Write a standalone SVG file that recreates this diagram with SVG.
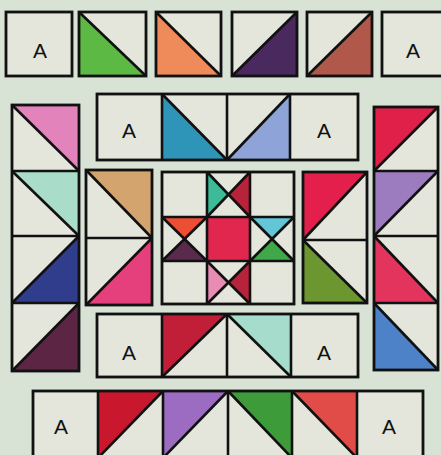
<svg xmlns="http://www.w3.org/2000/svg" width="441" height="455" viewBox="0 0 441 455">
<style>
.c{fill:#e4e6dc}
.o{fill:none;stroke:#111;stroke-width:2.8;stroke-linejoin:miter}
.d{stroke:#111;stroke-width:2.6;fill:none}
.t{font-family:"Liberation Sans",Arial,sans-serif;font-size:21px;fill:#111;text-anchor:middle}
</style>
<rect width="441" height="455" fill="#d8e2d5"/>
<g id="row1">
<rect class="c" x="6" y="12" width="66" height="64"/><rect class="o" x="6" y="12" width="66" height="64"/>
<text class="t" x="40" y="58">A</text>
<rect class="c" x="79" y="12" width="67" height="64"/><polygon points="79,12 79,76 146,76" fill="#5cb944"/><line class="d" x1="79" y1="12" x2="146" y2="76"/><rect class="o" x="79" y="12" width="67" height="64"/>
<rect class="c" x="156" y="12" width="65" height="64"/><polygon points="156,12 156,76 221,76" fill="#ef8a5a"/><line class="d" x1="156" y1="12" x2="221" y2="76"/><rect class="o" x="156" y="12" width="65" height="64"/>
<rect class="c" x="232" y="12" width="65" height="64"/><polygon points="232,76 297,76 297,12" fill="#4a2a5e"/><line class="d" x1="232" y1="76" x2="297" y2="12"/><rect class="o" x="232" y="12" width="65" height="64"/>
<rect class="c" x="307" y="12" width="65" height="64"/><polygon points="307,76 372,76 372,12" fill="#b0584a"/><line class="d" x1="307" y1="76" x2="372" y2="12"/><rect class="o" x="307" y="12" width="65" height="64"/>
<rect class="c" x="382" y="12" width="66" height="64"/><rect class="o" x="382" y="12" width="66" height="64"/>
<text class="t" x="413" y="58">A</text>
</g>
<g id="bar-top">
<rect class="c" x="97" y="94" width="261" height="66"/>
<polygon points="162,94 162,160 227,160" fill="#2e95b8"/>
<polygon points="227,160 290,160 290,94" fill="#8ea4d8"/>
<line class="d" x1="162" y1="94" x2="227" y2="160"/>
<line class="d" x1="227" y1="160" x2="290" y2="94"/>
<line class="d" x1="162" y1="94" x2="162" y2="160"/>
<line class="d" x1="227" y1="94" x2="227" y2="160"/>
<line class="d" x1="290" y1="94" x2="290" y2="160"/>
<rect class="o" x="97" y="94" width="261" height="66"/>
<text class="t" x="129" y="138">A</text>
<text class="t" x="324" y="138">A</text>
</g>
<g id="col-left">
<rect class="c" x="12" y="105" width="67" height="266"/>
<polygon points="12,105 79,105 79,171" fill="#e283bb"/>
<polygon points="12,171 79,171 79,236" fill="#a9ddc9"/>
<polygon points="12,303 79,303 79,236" fill="#2f3d8c"/>
<polygon points="12,371 79,371 79,303" fill="#5c2543"/>
<line class="d" x1="12" y1="105" x2="79" y2="171"/>
<line class="d" x1="12" y1="171" x2="79" y2="236"/>
<line class="d" x1="12" y1="303" x2="79" y2="236"/>
<line class="d" x1="12" y1="371" x2="79" y2="303"/>
<line class="d" x1="12" y1="171" x2="79" y2="171"/>
<line class="d" x1="12" y1="236" x2="79" y2="236"/>
<line class="d" x1="12" y1="303" x2="79" y2="303"/>
<rect class="o" x="12" y="105" width="67" height="266"/>
</g>
<g id="col-inner-left">
<rect class="c" x="86" y="170" width="66" height="135"/>
<polygon points="86,170 152,170 152,238" fill="#d4a46e"/>
<polygon points="86,305 152,305 152,238" fill="#e5407c"/>
<line class="d" x1="86" y1="170" x2="152" y2="238"/>
<line class="d" x1="86" y1="305" x2="152" y2="238"/>
<line class="d" x1="86" y1="238" x2="152" y2="238"/>
<rect class="o" x="86" y="170" width="66" height="135"/>
</g>
<g id="star">
<rect class="c" x="162" y="172" width="132" height="132"/>
<polygon points="207,172 207,217 228.5,194.5" fill="#3dba98"/>
<polygon points="250,172 250,217 228.5,194.5" fill="#b8233c"/>
<polygon points="162,217 207,217 184.5,239" fill="#ec4f33"/>
<polygon points="162,261 207,261 184.5,239" fill="#5a2a4c"/>
<rect x="207" y="217" width="43" height="44" fill="#e2274f"/>
<polygon points="250,217 294,217 272,239" fill="#62c6d6"/>
<polygon points="250,261 294,261 272,239" fill="#40a848"/>
<polygon points="207,261 207,304 228.5,282.5" fill="#e98cb4"/>
<polygon points="250,261 250,304 228.5,282.5" fill="#b8233c"/>
<line class="d" x1="207" y1="172" x2="250" y2="217"/>
<line class="d" x1="250" y1="172" x2="207" y2="217"/>
<line class="d" x1="162" y1="217" x2="207" y2="261"/>
<line class="d" x1="207" y1="217" x2="162" y2="261"/>
<line class="d" x1="250" y1="217" x2="294" y2="261"/>
<line class="d" x1="294" y1="217" x2="250" y2="261"/>
<line class="d" x1="207" y1="261" x2="250" y2="304"/>
<line class="d" x1="250" y1="261" x2="207" y2="304"/>
<line class="d" x1="207" y1="172" x2="207" y2="304"/>
<line class="d" x1="250" y1="172" x2="250" y2="304"/>
<line class="d" x1="162" y1="217" x2="294" y2="217"/>
<line class="d" x1="162" y1="261" x2="294" y2="261"/>
<rect class="o" x="162" y="172" width="132" height="132"/>
</g>
<g id="col-inner-right">
<rect class="c" x="303" y="172" width="64" height="131"/>
<polygon points="303,172 367,172 303,240" fill="#e41f4b"/>
<polygon points="303,240 303,303 367,303" fill="#6b9630"/>
<line class="d" x1="303" y1="240" x2="367" y2="172"/>
<line class="d" x1="303" y1="240" x2="367" y2="303"/>
<line class="d" x1="303" y1="240" x2="367" y2="240"/>
<rect class="o" x="303" y="172" width="64" height="131"/>
</g>
<g id="col-right">
<rect class="c" x="374" y="107" width="64" height="263"/>
<polygon points="374,107 438,107 374,171" fill="#e1204a"/>
<polygon points="374,171 438,171 374,236" fill="#9c7cbf"/>
<polygon points="374,236 374,303 438,303" fill="#e2345c"/>
<polygon points="374,303 374,370 438,370" fill="#4d82c8"/>
<line class="d" x1="374" y1="171" x2="438" y2="107"/>
<line class="d" x1="374" y1="236" x2="438" y2="171"/>
<line class="d" x1="374" y1="236" x2="438" y2="303"/>
<line class="d" x1="374" y1="303" x2="438" y2="370"/>
<line class="d" x1="374" y1="171" x2="438" y2="171"/>
<line class="d" x1="374" y1="236" x2="438" y2="236"/>
<line class="d" x1="374" y1="303" x2="438" y2="303"/>
<rect class="o" x="374" y="107" width="64" height="263"/>
</g>
<g id="bar-bottom">
<rect class="c" x="97" y="314" width="261" height="63"/>
<polygon points="162,314 227,314 162,377" fill="#c11f37"/>
<polygon points="227,314 291,314 291,377" fill="#a6dccb"/>
<line class="d" x1="162" y1="377" x2="227" y2="314"/>
<line class="d" x1="227" y1="314" x2="291" y2="377"/>
<line class="d" x1="162" y1="314" x2="162" y2="377"/>
<line class="d" x1="227" y1="314" x2="227" y2="377"/>
<line class="d" x1="291" y1="314" x2="291" y2="377"/>
<rect class="o" x="97" y="314" width="261" height="63"/>
<text class="t" x="129" y="360">A</text>
<text class="t" x="324" y="360">A</text>
</g>
<g id="row-bottom">
<rect class="c" x="33" y="391" width="390" height="67"/>
<polygon points="98,391 163,391 98,458" fill="#c9172e"/>
<polygon points="163,391 228,391 163,458" fill="#9b6cc2"/>
<polygon points="228,391 292,391 292,458" fill="#3e9b3a"/>
<polygon points="292,391 357,391 357,458" fill="#e24c48"/>
<line class="d" x1="98" y1="458" x2="163" y2="391"/>
<line class="d" x1="163" y1="458" x2="228" y2="391"/>
<line class="d" x1="228" y1="391" x2="292" y2="458"/>
<line class="d" x1="292" y1="391" x2="357" y2="458"/>
<line class="d" x1="98" y1="391" x2="98" y2="458"/>
<line class="d" x1="163" y1="391" x2="163" y2="458"/>
<line class="d" x1="228" y1="391" x2="228" y2="458"/>
<line class="d" x1="292" y1="391" x2="292" y2="458"/>
<line class="d" x1="357" y1="391" x2="357" y2="458"/>
<rect class="o" x="33" y="391" width="390" height="67"/>
<text class="t" x="61" y="434">A</text>
<text class="t" x="389" y="434">A</text>
</g>
<g id="connectors"/>
</svg>
